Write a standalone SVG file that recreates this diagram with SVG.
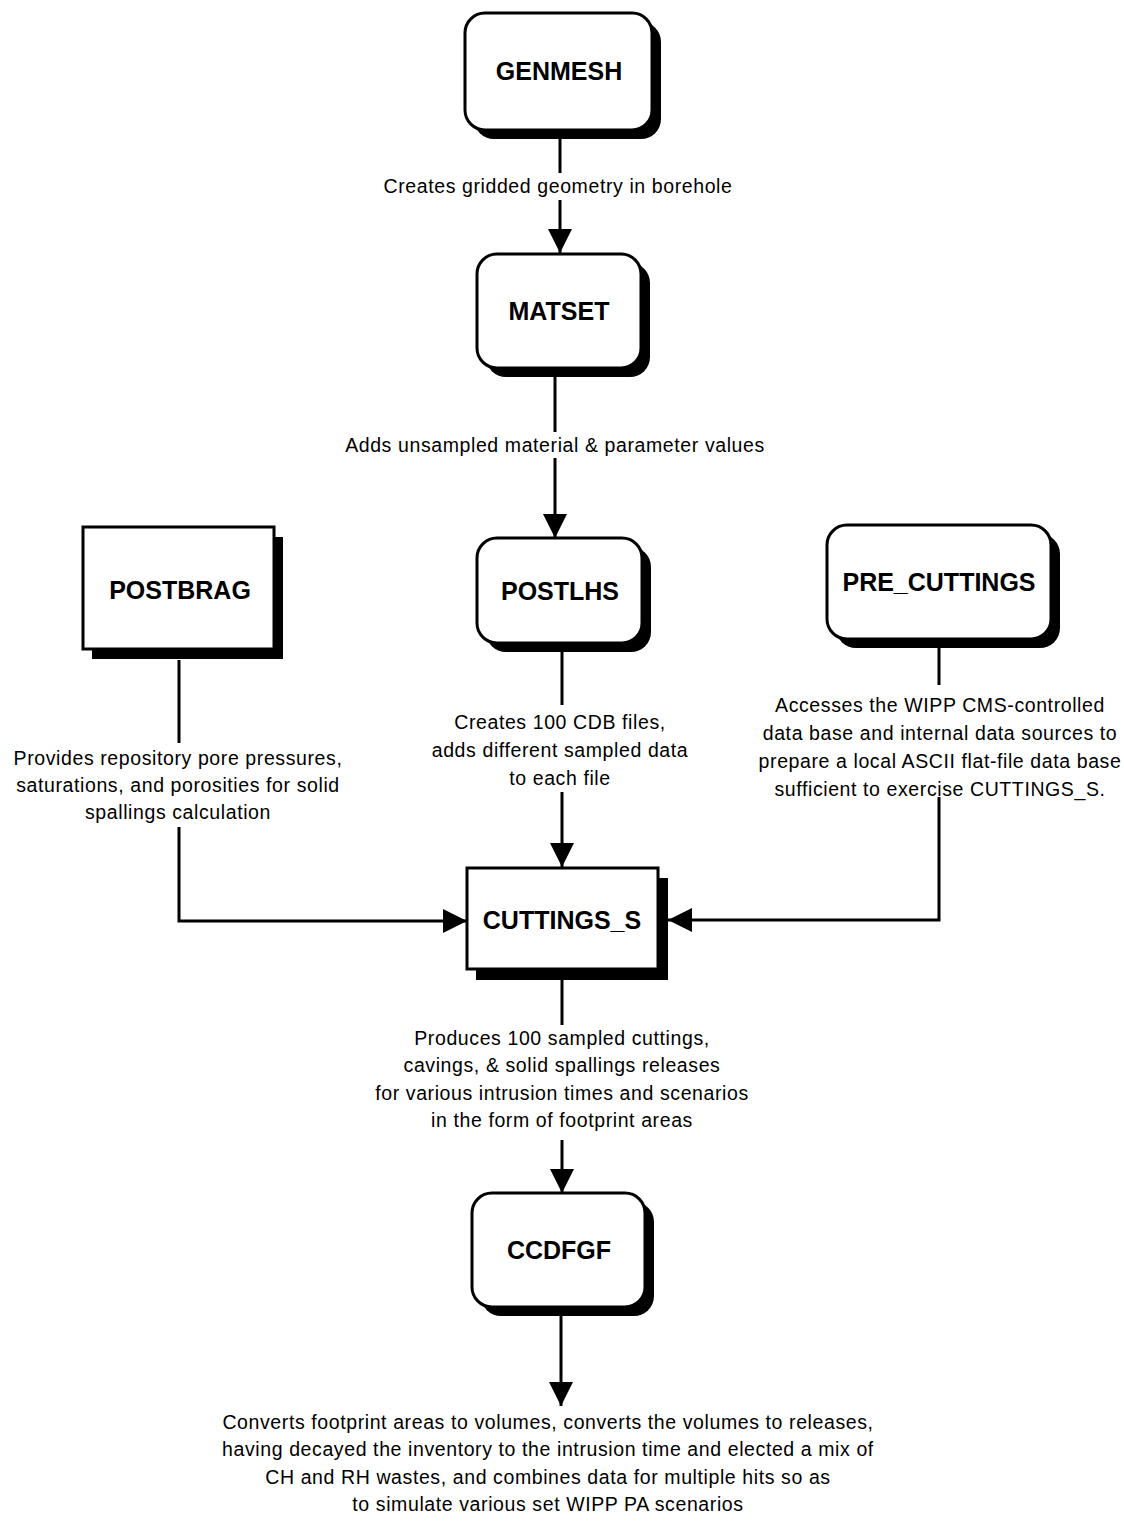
<svg xmlns="http://www.w3.org/2000/svg" width="1124" height="1521" viewBox="0 0 1124 1521">
<defs>
<style>
.box{fill:#fff;stroke:#000;stroke-width:3}
.shadow{fill:#000}
.title{font-family:"Liberation Sans",Arial,sans-serif;font-weight:bold;font-size:25px;text-anchor:middle;fill:#000}
.lbl{font-family:"Liberation Sans",Arial,sans-serif;font-size:19.5px;letter-spacing:0.6px;text-anchor:middle;fill:#000}
.ln{fill:none;stroke:#000;stroke-width:3}
</style>
<marker id="ah" markerUnits="userSpaceOnUse" markerWidth="24" markerHeight="24" viewBox="0 0 24 24" refX="24" refY="12" orient="auto">
<path d="M0,0 L24,12 L0,24 Z" fill="#000"/>
</marker>
</defs>
<rect width="1124" height="1521" fill="#fff"/>

<g id="connectors">
<line class="ln" x1="560" y1="138" x2="560" y2="173"/>
<line class="ln" x1="560" y1="200" x2="560" y2="253" marker-end="url(#ah)"/>
<line class="ln" x1="555" y1="376" x2="555" y2="432"/>
<line class="ln" x1="555" y1="458" x2="555" y2="538" marker-end="url(#ah)"/>
<line class="ln" x1="562" y1="651" x2="562" y2="705"/>
<line class="ln" x1="562" y1="792" x2="562" y2="867" marker-end="url(#ah)"/>
<line class="ln" x1="179" y1="660" x2="179" y2="743"/>
<polyline class="ln" points="179,827 179,921 467,921" marker-end="url(#ah)"/>
<line class="ln" x1="939" y1="648" x2="939" y2="685"/>
<polyline class="ln" points="939,797 939,920 668,920" marker-end="url(#ah)"/>
<line class="ln" x1="562" y1="980" x2="562" y2="1025"/>
<line class="ln" x1="562" y1="1140" x2="562" y2="1193" marker-end="url(#ah)"/>
<line class="ln" x1="561" y1="1315" x2="561" y2="1406" marker-end="url(#ah)"/>
</g>

<g id="genmesh">
<rect class="shadow" x="474" y="22" width="187" height="117" rx="20"/>
<rect class="box" x="465" y="13" width="187" height="117" rx="20"/>
<text class="title" x="559" y="80">GENMESH</text>
</g>
<text class="lbl" x="558" y="193">Creates gridded geometry in borehole</text>

<g id="matset">
<rect class="shadow" x="486" y="263" width="164" height="114" rx="20"/>
<rect class="box" x="477" y="254" width="164" height="114" rx="20"/>
<text class="title" x="559" y="320">MATSET</text>
</g>
<text class="lbl" x="555" y="452">Adds unsampled material &amp; parameter values</text>

<g id="postbrag">
<rect class="shadow" x="92" y="537" width="191" height="122"/>
<rect class="box" x="83" y="527" width="191" height="122"/>
<text class="title" x="180" y="599">POSTBRAG</text>
</g>
<g>
<text class="lbl" x="178" y="765">Provides repository pore pressures,</text>
<text class="lbl" x="178" y="792">saturations, and porosities for solid</text>
<text class="lbl" x="178" y="819">spallings calculation</text>
</g>

<g id="postlhs">
<rect class="shadow" x="486" y="547" width="165" height="105" rx="20"/>
<rect class="box" x="477" y="538" width="165" height="105" rx="20"/>
<text class="title" x="560" y="600">POSTLHS</text>
</g>
<g>
<text class="lbl" x="560" y="729">Creates 100 CDB files,</text>
<text class="lbl" x="560" y="757">adds different sampled data</text>
<text class="lbl" x="560" y="785">to each file</text>
</g>

<g id="pre_cuttings">
<rect class="shadow" x="836" y="534" width="224" height="114" rx="20"/>
<rect class="box" x="827" y="525" width="224" height="114" rx="20"/>
<text class="title" x="939" y="591">PRE_CUTTINGS</text>
</g>
<g>
<text class="lbl" x="940" y="712">Accesses the WIPP CMS-controlled</text>
<text class="lbl" x="940" y="740">data base and internal data sources to</text>
<text class="lbl" x="940" y="768">prepare a local ASCII flat-file data base</text>
<text class="lbl" x="940" y="796">sufficient to exercise CUTTINGS_S.</text>
</g>

<g id="cuttings_s">
<rect class="shadow" x="476" y="878" width="192" height="102"/>
<rect class="box" x="467" y="868" width="191" height="101"/>
<text class="title" x="562" y="929">CUTTINGS_S</text>
</g>
<g>
<text class="lbl" x="562" y="1045">Produces 100 sampled cuttings,</text>
<text class="lbl" x="562" y="1072">cavings, &amp; solid spallings releases</text>
<text class="lbl" x="562" y="1100">for various intrusion times and scenarios</text>
<text class="lbl" x="562" y="1127">in the form of footprint areas</text>
</g>

<g id="ccdfgf">
<rect class="shadow" x="481" y="1202" width="173" height="114" rx="20"/>
<rect class="box" x="472" y="1193" width="173" height="114" rx="20"/>
<text class="title" x="559" y="1259">CCDFGF</text>
</g>
<g>
<text class="lbl" x="548" y="1429">Converts footprint areas to volumes, converts the volumes to releases,</text>
<text class="lbl" x="548" y="1456">having decayed the inventory to the intrusion time and elected a mix of</text>
<text class="lbl" x="548" y="1484">CH and RH wastes, and combines data for multiple hits so as</text>
<text class="lbl" x="548" y="1511">to simulate various set WIPP PA scenarios</text>
</g>
</svg>
